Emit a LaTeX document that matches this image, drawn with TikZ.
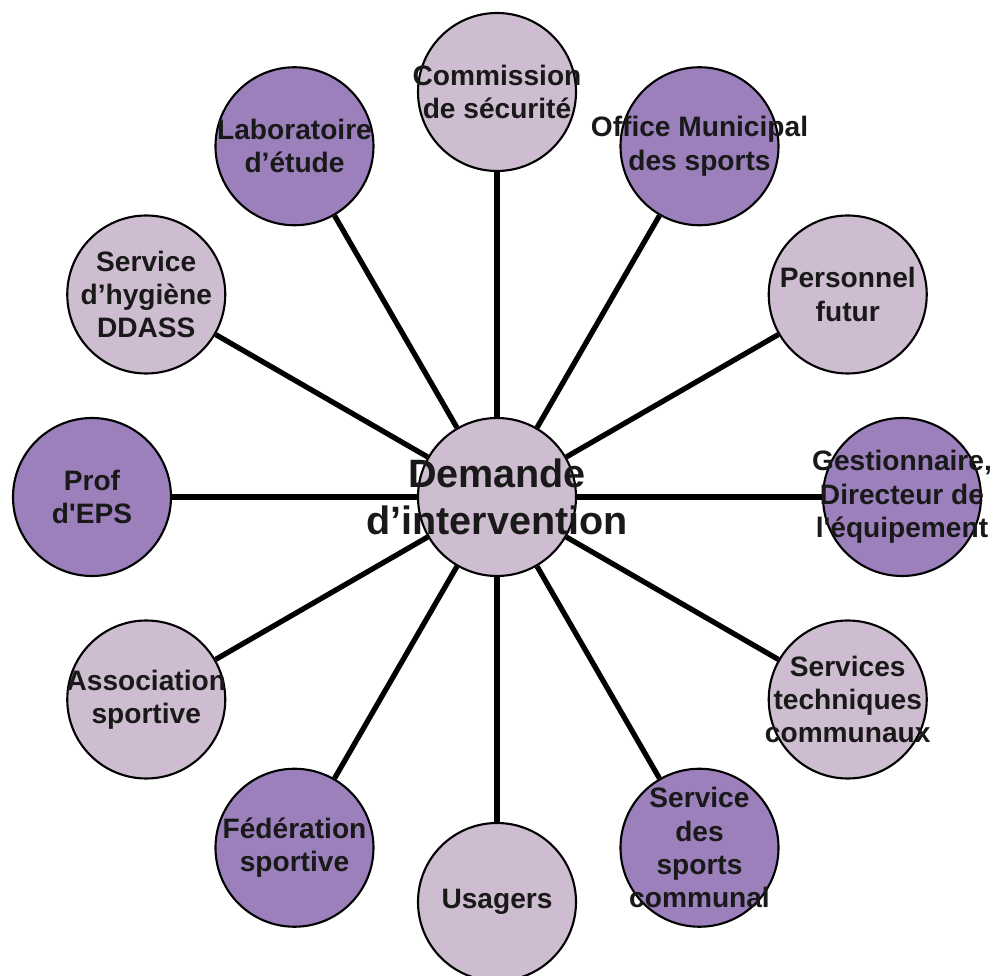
\documentclass[tikz,border=0pt]{standalone}
\usepackage{fontspec}
\setmainfont{Liberation Sans}
\usetikzlibrary{shapes,backgrounds}
\definecolor{palelav}{RGB}{206,189,208}
\definecolor{deeplav}{RGB}{155,128,187}

\begin{document}
\begin{tikzpicture}[-,line width=3pt,
                    state/.style={circle,draw,line width=1.2pt,minimum size=3.16cm,inner sep=0pt},
                    pale/.style={fill=palelav},
                    deep/.style={fill=deeplav},
                    txt/.style={align=center,text=black!90,
                                font=\bfseries\fontsize{16}{19}\selectfont}]

  \useasboundingbox (-9.94,-9.58) rectangle (9.98,9.94);

  \node[pale,state] (D) at (0,0)
       [label={[txt,font=\bfseries\fontsize{22.5}{27}\selectfont]center:{Demande\\d’intervention}}] {};

  \node[pale,state] (CS) at (90:8.1cm)   [label={[txt]center:{Commission\\de sécurité}}] {};
  \node[deep,state] (OM) at (60:8.1cm)   [label={[txt]center:{Office Municipal\\des sports}}] {};
  \node[pale,state] (PF) at (30:8.1cm)   [label={[txt]center:{Personnel\\futur}}] {};
  \node[deep,state] (GD) at (0:8.1cm)    [label={[txt]center:{Gestionnaire,\\Directeur de\\l\textquotesingle équipement}}] {};
  \node[pale,state] (ST) at (-30:8.1cm)  [label={[txt]center:{Services\\techniques\\communaux}}] {};
  \node[deep,state] (SC) at (-60:8.1cm)  [label={[txt]center:{Service\\des\\sports\\communal}}] {};
  \node[pale,state] (US) at (-90:8.1cm)  [label={[txt]center:{Usagers}}] {};
  \node[deep,state] (FS) at (-120:8.1cm) [label={[txt]center:{Fédération\\sportive}}] {};
  \node[pale,state] (AS) at (-150:8.1cm) [label={[txt]center:{Association\\sportive}}] {};
  \node[deep,state] (PE) at (180:8.1cm)  [label={[txt]center:{Prof\\d\textquotesingle EPS}}] {};
  \node[pale,state] (SH) at (150:8.1cm)  [label={[txt]center:{Service\\d’hygiène\\DDASS}}] {};
  \node[deep,state] (LE) at (120:8.1cm)  [label={[txt]center:{Laboratoire\\d’étude}}] {};

  \path (D) edge (CS)
            edge (OM)
            edge (PF)
            edge (GD)
            edge (ST)
            edge (SC)
            edge (US)
            edge (FS)
            edge (AS)
            edge (PE)
            edge (SH)
            edge (LE);
\end{tikzpicture}
\end{document}
